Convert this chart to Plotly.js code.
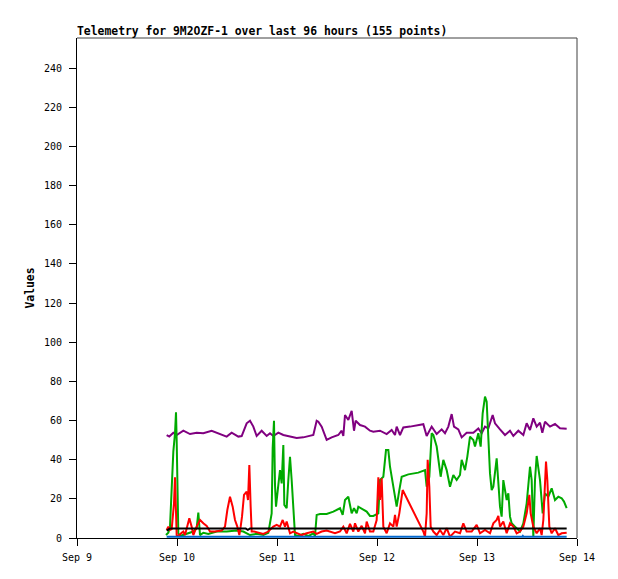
<!DOCTYPE html>
<html>
<head>
<meta charset="utf-8">
<script src="https://cdn.plot.ly/plotly-3.0.1.min.js"></script>
<style>html,body{margin:0;padding:0;background:#fff;}#chart{width:618px;height:579px;}</style>
</head>
<body>
<div id="chart"></div>
<script>
// Hours since Sep 9 00:00 and values, per series
const purpleHours = [21.52,22.16,23.12,23.92,25.52,27.12,28.72,30.32,32.32,34.32,35.92,37.12,38.72,39.52,40.72,41.52,42.32,43.12,44.32,45.52,46.32,47.12,48.32,49.52,51.12,52.72,54.32,56.72,57.52,57.92,58.72,59.92,61.12,62.72,63.52,63.92,64.32,65.12,65.92,66.48,66.88,67.92,69.12,70.32,71.12,72.72,74.32,75.52,76.32,76.72,77.52,78.32,79.92,81.52,83.12,83.92,85.12,86.32,87.52,88.32,89.12,89.92,90.48,91.52,92.32,93.52,95.12,96.32,97.12,97.92,98.72,99.76,100.32,101.52,102.72,103.92,104.72,105.92,107.12,107.92,108.72,109.52,110.32,111.12,111.68,112.32,113.52,114.72,115.92,117.52];
const purpleValues = [52.6,51.8,53.8,52.6,54.8,53.1,53.8,53.5,54.8,53.1,51.8,53.8,51.8,52.1,58.6,59.9,56.9,52.1,54.8,52.1,53.5,52.1,53.8,52.6,51.8,51.1,51.4,52.6,59.9,59.4,56.9,50.1,51.4,52.6,54.8,52.1,62.8,60.3,65.0,54.8,59.9,57.7,56.9,54.8,54.3,54.8,53.1,55.2,52.6,56.9,52.6,56.5,56.9,57.6,58.1,52.1,56.9,53.1,55.5,53.5,56.9,63.3,56.9,55.5,51.4,53.8,53.8,56.0,53.5,56.9,56.0,62.8,58.6,55.5,52.6,54.8,52.1,54.8,52.6,58.6,55.2,61.1,56.9,58.9,53.8,59.4,56.9,58.2,56.0,55.8];

const greenHours = [21.36,21.92,22.32,22.72,23.12,23.52,23.76,23.92,24.08,24.32,24.72,26.32,27.92,28.72,29.12,29.52,30.32,31.52,33.52,35.92,38.32,39.92,41.52,43.12,44.72,45.92,46.72,46.96,47.28,47.52,47.76,48.32,48.72,49.12,49.52,49.76,50.32,50.72,51.12,51.52,51.92,52.32,53.12,54.32,55.52,56.72,57.12,57.52,58.32,59.92,61.52,63.12,63.76,64.32,65.12,65.52,65.92,66.48,67.12,67.52,68.72,69.52,70.32,71.12,72.32,72.72,73.52,74.16,74.72,75.12,75.92,76.72,77.36,77.92,79.52,81.92,83.52,83.92,84.56,85.12,85.52,86.32,86.96,87.28,87.92,88.72,89.52,90.32,91.12,91.92,92.32,93.12,93.68,94.32,95.12,95.52,96.32,96.88,97.36,97.92,98.32,98.72,99.12,99.52,99.92,100.72,101.12,101.52,101.92,102.32,103.12,103.52,103.92,104.32,105.12,106.32,107.12,107.92,108.72,109.12,109.52,109.92,110.32,111.12,111.76,112.32,113.12,113.92,114.72,115.52,116.32,116.88,117.52];
const greenValues = [1.5,2.7,5.8,30.5,44.1,53.5,64.2,50.1,16.0,2.4,1.0,2.1,3.3,5.0,13.0,1.5,2.7,2.1,3.3,3.3,3.8,3.3,1.5,2.1,1.5,2.7,12.6,45.8,59.9,27.1,16.0,27.1,34.7,27.9,47.5,16.9,15.2,29.6,41.5,29.6,12.6,1.5,1.0,2.1,1.0,2.4,1.0,11.8,12.3,12.3,13.5,15.2,11.8,19.4,21.1,16.9,12.6,15.2,12.6,16.0,14.3,13.5,11.3,11.3,12.6,29.6,31.3,44.9,44.9,36.4,26.2,16.0,24.5,31.3,32.5,33.4,34.7,26.2,31.3,53.5,52.6,46.7,36.4,31.3,39.9,34.7,26.2,32.2,29.6,32.2,39.9,34.7,41.6,51.8,50.1,46.7,53.5,46.7,63.7,72.2,69.6,50.1,33.0,24.5,26.2,40.7,26.2,16.0,10.9,29.6,19.4,22.8,10.9,7.5,5.8,3.3,7.5,17.7,36.4,29.6,0.7,29.6,41.9,29.6,12.6,22.8,21.1,25.4,19.4,21.1,20.3,18.6,15.2];

const redHours = [21.52,21.92,22.32,22.72,23.28,23.52,23.92,24.32,25.12,25.52,25.92,26.48,26.96,27.52,27.92,28.72,29.52,30.32,31.12,31.92,33.12,34.72,35.52,36.08,36.72,37.36,37.92,38.48,38.96,39.28,39.6,40.08,40.72,41.04,41.36,41.68,41.92,42.48,43.52,44.72,45.92,47.12,47.92,48.72,49.36,49.92,50.32,51.12,51.92,53.12,53.92,55.12,56.72,57.52,58.72,59.92,61.92,63.12,63.92,64.72,65.52,66.32,66.72,67.52,68.32,69.12,69.52,70.32,71.12,71.92,72.32,72.72,73.12,73.52,74.32,75.12,75.92,76.32,76.72,77.36,78.16,83.12,83.52,83.92,84.16,84.56,84.88,85.52,86.32,87.12,87.92,88.72,89.52,90.72,91.92,92.72,93.52,94.72,95.92,96.72,97.92,99.12,99.92,100.72,101.12,101.52,102.32,103.12,103.92,104.72,105.52,106.32,107.12,107.92,108.56,108.88,109.52,110.32,111.12,111.52,111.92,112.56,112.88,113.36,113.92,114.72,115.52,116.32,117.52];
const redValues = [4.1,5.8,4.1,4.5,17.7,31.0,1.5,1.0,2.7,3.3,1.5,6.2,10.1,5.8,1.5,5.8,9.2,7.5,6.2,3.3,3.3,3.8,5.8,14.3,21.1,16.0,9.2,5.8,1.5,5.8,10.9,22.0,23.7,19.4,37.3,16.0,3.3,3.3,2.7,2.1,3.3,5.8,6.7,5.8,9.2,5.8,8.4,2.4,3.3,2.1,1.5,2.4,3.3,2.1,3.3,3.8,2.4,3.3,5.8,2.4,7.2,3.3,7.5,3.3,6.2,2.4,8.4,3.3,3.3,9.2,31.0,19.4,30.5,5.8,2.4,7.5,5.8,11.8,5.8,12.6,24.5,3.3,0.7,12.6,39.9,26.2,5.8,3.3,1.5,4.1,1.5,5.0,0.7,3.3,2.4,7.5,3.3,3.3,6.7,2.4,4.1,2.4,7.5,9.2,11.3,5.8,8.4,2.4,7.5,5.8,2.4,3.3,5.8,12.6,22.0,12.6,5.8,2.4,5.0,1.5,9.2,39.0,29.6,5.8,2.4,5.0,1.5,2.4,2.7];

const blackHours = [21.52,22.3,40.5,41.0,41.5,117.52];
const blackValues = [3.8,4.8,4.8,4.2,4.8,4.8];

const blueHours = [21.52,106.8,107.0,107.2,117.52];
const blueValues = [0.6,0.6,1.1,0.6,0.6];

const xTickVals = ['2024-09-09','2024-09-10','2024-09-11','2024-09-12','2024-09-13','2024-09-14'];
const xTickText = ['Sep 9','Sep 10','Sep 11','Sep 12','Sep 13','Sep 14'];
const yTicks = [0,20,40,60,80,100,120,140,160,180,200,220,240];

const base = Date.UTC(2024, 8, 9);
function toDates(hours){ return hours.map(h => new Date(base + h*3600000).toISOString().replace('Z','')); }

function line(hours, values, color){
  return {x: toDates(hours), y: values, type:'scatter', mode:'lines',
          line:{color: color, width: 2}, hoverinfo:'skip', showlegend:false};
}

const data = [
  line(purpleHours, purpleValues, '#800080'),
  line(greenHours, greenValues, '#00aa00'),
  line(redHours, redValues, '#ff0000'),
  line(blackHours, blackValues, '#000000'),
  line(blueHours, blueValues, '#0066cc')
];

const tickFont = {family:'DejaVu Sans Mono, monospace', size:10, color:'#000'};
const layout = {
  width:618, height:579,
  margin:{l:77, r:41, t:38, b:41},
  paper_bgcolor:'#fff', plot_bgcolor:'#fff',
  title:{text:'<b>Telemetry for 9M2OZF-1 over last 96 hours (155 points)</b>',
         font:{family:'DejaVu Sans Mono, monospace', size:11.4, color:'#000'},
         x:0, xanchor:'left', xref:'paper', y:1-31/579, yanchor:'middle'},
  xaxis:{type:'date', range:['2024-09-09','2024-09-14'], tickvals:xTickVals, ticktext:xTickText,
         showgrid:false, zeroline:false, showline:true, linecolor:'#000', linewidth:1,
         ticks:'outside', ticklen:7, tickcolor:'#000', tickfont:tickFont, ticklabelstandoff:3, fixedrange:true},
  yaxis:{range:[0,255.4], tickvals:yTicks, showgrid:false, zeroline:false, showline:true,
         linecolor:'#000', linewidth:1, ticks:'outside', ticklen:7, tickcolor:'#000', tickfont:tickFont,
         ticklabelstandoff:5,
         title:{text:'<b>Values</b>', font:{family:'DejaVu Sans Mono, monospace', size:11.4, color:'#000'}, standoff:6}},
  shapes:[
    {type:'line', xref:'paper', yref:'paper', x0:0, x1:1, y0:1, y1:1, line:{color:'#404040', width:1}},
    {type:'line', xref:'paper', yref:'paper', x0:1, x1:1, y0:0, y1:1, line:{color:'#404040', width:1}}
  ]
};
Plotly.newPlot('chart', data, layout, {staticPlot:true, displayModeBar:false});
</script>
</body>
</html>
